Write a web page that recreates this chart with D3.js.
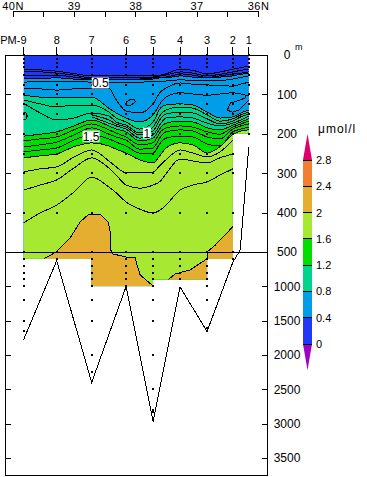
<!DOCTYPE html>
<html>
<head>
<meta charset="utf-8">
<script src="https://cdn.jsdelivr.net/npm/d3@7"></script>
<style>
  body { margin: 0; background: #fff; }
  text { font-family: "Liberation Sans", sans-serif; font-size: 12px; fill: #000; }
  .line { fill: none; stroke: #000; stroke-width: 1; shape-rendering: crispEdges; }
  .axis path, .axis line { stroke: #000; shape-rendering: crispEdges; }
</style>
</head>
<body>
<div id="viz"></div>
<script>
const stationNames = ["PM-9", "8", "7", "6", "5", "4", "3", "2", "1"];
const stationLats = [39.82, 39.28, 38.71, 38.15, 37.71, 37.27, 36.83, 36.41, 36.15];

const upper = [0, 10, 20, 30, 50, 75, 100, 125, 150, 200, 250, 300, 400, 500];
const stationDepths = [
  [...upper, 600, 700, 800, 900, 1000, 1200, 1500, 1650],
  [...upper, 600],
  [...upper, 600, 700, 800, 900, 1000, 1200, 1500, 2000, 2250],
  [...upper, 600, 700, 800, 900, 1000],
  [...upper, 600, 700, 800, 900, 1000, 1200, 1500, 2000, 2500, 2800, 2830],
  [...upper, 600, 700, 800, 900],
  [...upper, 600, 700, 800, 900, 1000, 1200, 1600],
  [...upper, 600],
  [0, 10, 20, 30, 50, 75, 100, 125, 150, 200]
];

const gridLats = [39.82, 39.55, 39.28, 39.0, 38.71, 38.43, 38.31, 38.15, 37.93, 37.71, 37.59, 37.5, 37.27, 37.06, 36.83, 36.62, 36.41, 36.28, 36.15];

// depth (m) of each contour at gridLats, null where the line is not drawn
const c01 = [38, 38, 41, 47, 53, 53, 53, 53, 53, 53, 51, 48, 36, 39, 48, 43, 36, 32, 28];
const c02 = [43, 43, 46, 51, 58, 58, 58, 58, 58, 56, 53, 51, 43, 46, 53, 49, 43, 39, 36];
const c03 = [51, 51, 51, 56, 61, 61, 61, 61, 61, 58, 56, 56, 48, 51, 57, 53, 48, 46, 43];
const c04 = [61, 60, 58, 61, 63, 63, 63, 63, 63, 61, 58, 58, 53, 56, 58, 56, 53, 49, 46];
const c05 = [69, 67, 66, 66, 69, 69, 69, 69, 69, 67, 66, 66, 63, 65, 66, 65, 61, 57, 53];
const c06 = [84, 86, 89, 86, 84, 84, 114, 142, 147, 124, 94, 84, 71, 74, 76, 77, 79, 74, 69];
const c07 = [102, 107, 109, 107, 107, 135, 147, 160, 170, 152, 122, 107, 96, 99, 102, 99, 96, 99, 104];
const c08 = [114, 124, 132, 127, 127, 145, 160, 170, 188, 170, 135, 127, 124, 127, 145, 160, 157, 147, 140];
const c09 = [122, 147, 165, 160, 147, 155, 170, 178, 198, 183, 152, 140, 132, 135, 152, 168, 162, 152, 145];
const c10 = [null, null, null, null, 152, 165, 175, 183, 203, 193, 162, 150, 145, 147, 162, 175, 168, 157, 150];
const c11 = [null, null, null, null, 157, 173, 180, 188, 211, 203, 175, 160, 157, 160, 173, 180, 173, 165, 155];
const c12 = [206, 201, 195, 180, 165, 180, 188, 195, 218, 211, 185, 173, 168, 170, 185, 190, 178, 170, 162];
const c13 = [218, 213, 208, 190, 175, 190, 198, 208, 228, 223, 195, 185, 180, 183, 195, 201, 183, 175, 168];
const c14 = [233, 228, 221, 203, 185, 201, 208, 216, 239, 236, 208, 195, 190, 193, 208, 213, 188, 180, 175];
const c15 = [246, 241, 236, 216, 203, 213, 221, 231, 249, 249, 223, 211, 206, 208, 226, 231, 195, 188, 183];
const c16 = [261, 256, 251, 233, 223, 231, 239, 249, 266, 274, 254, 236, 223, 228, 249, 233, 202, 193, 190];
const c17 = [297, 289, 284, 259, 241, 269, 284, 299, 299, 297, 279, 266, 241, 249, 259, 246, 216, null, null];
const c18 = [343, 330, 317, 287, 261, 287, 305, 330, 338, 330, 320, 302, 264, 269, 274, 261, 251, null, null];
const c19 = [426, 401, 381, 348, 310, 335, 350, 373, 391, 401, 393, 381, 343, 330, 322, 305, 289, null, null];
const contours = [c01, c02, c03, c04, c05, c06, c07, c08, c09, c10, c11, c12, c13, c14, c15, c16, c17, c18, c19];

// cyan to teal edge follows the seventh line on the left and the eighth over the hump
const tealEdge = [102, 107, 109, 107, 107, 135, 147, 160, 170, 152, 135, 127, 124, 127, 145, 160, 157, 147, 140];

const bandColors = ["#2038f8", "#009ee8", "#00d48c", "#00de00", "#a6e832", "#e6ae30", "#f08030"];
const bandEdges = [c04, tealEdge, c12, c16];

// 2.0 contour, orange below it
const orangeLeftLat = [39.49, 39.29, 39.06, 38.9, 38.77, 38.71, 38.57, 38.44, 38.4, 38.4, 38.36, 38.15, 38.0, 37.97, 37.92, 37.71];
const orangeLeftDepth = [600, 500, 464, 424, 406, 404, 404, 424, 457, 495, 529, 573, 587, 689, 834, 994];
const orangeRightLat = [37.47, 37.35, 37.11, 36.83, 36.83, 36.7, 36.54, 36.41];
const orangeRightDepth = [907, 820, 762, 600, 500, 483, 457, 436];

const eyeLat = [39.82, 39.78, 39.76, 39.78, 39.82];
const eyeDepth = [145, 147, 155, 162, 165];
const bowlLat = [38.14, 38.09, 38.02, 38.0, 38.07, 38.14, 38.14];
const bowlDepth = [119, 114, 112, 119, 127, 129, 119];
const curlLat = [36.15, 36.2, 36.21, 36.29, 36.45, 36.5, 36.42, 36.31, 36.18, 36.15];
const curlDepth = [104, 102, 109, 114, 122, 140, 145, 140, 119, 114];

// lower edge of the sampled section
const edgeLats = [39.82, 38.71, 37.71, 36.83, 36.41, 36.15];
const edgeDepths = [600, 1000, 900, 600, 200];

const bottomLat = [39.82, 39.28, 38.71, 38.15, 37.71, 37.27, 36.83, 36.41, 36.29, 36.25, 36.15];
const bottomDepth = [1780, 626, 2400, 1004, 2970, 1009, 1658, 650, 495, 419, 233];

const labelTexts = ["0.5", "1.5", "1"];
const labelLats = [38.57, 38.72, 37.81];
const labelDepths = [71, 206, 198];

const depthTicks = [0, 100, 200, 300, 400, 500, 1000, 1500, 2000, 2500, 3000, 3500];
const latTicks = [36, 36.5, 37, 37.5, 38, 38.5, 39, 39.5, 40];
const latNames = { 36: "36N", 37: "37", 38: "38", 39: "39", 40: "40N" };

const barValues = [0, 0.4, 0.8, 1.2, 1.6, 2, 2.4, 2.8];

const width = 367, height = 477;

const svg = d3.select("#viz").append("svg")
  .attr("width", width)
  .attr("height", height)
  .style("display", "block");

const x = d3.scaleLinear().domain([40, 36]).range([12.5, 258]);
const y = d3.scaleLinear().domain([0, 500, 3500]).range([55, 252, 458]);
const maxDepth = 3750;

// Section clip, stepped along the deepest sample
const clipPoints = [[edgeLats[0], 0], [edgeLats[edgeLats.length - 1], 0]];
for (let i = edgeDepths.length - 1; i >= 0; i--) {
  clipPoints.push([edgeLats[i + 1], edgeDepths[i]], [edgeLats[i], edgeDepths[i]]);
}
svg.append("clipPath").attr("id", "section")
  .append("path")
  .attr("d", d3.line().x(d => x(d[0])).y(d => y(d[1]))(clipPoints) + "Z");

const section = svg.append("g").attr("clip-path", "url(#section)");

section.append("rect")
  .attr("x", x(edgeLats[0]))
  .attr("y", y(0))
  .attr("width", x(36.15) - x(edgeLats[0]))
  .attr("height", y(1000) - y(0))
  .attr("fill", bandColors[0]);

const belowCurve = d3.area()
  .x(d => x(d[0]))
  .y0(y(1000))
  .y1(d => y(d[1]))
  .curve(d3.curveMonotoneX);

bandEdges.forEach((edge, i) => {
  section.append("path")
    .attr("d", belowCurve(d3.zip(gridLats, edge)))
    .attr("fill", bandColors[i + 1]);
});

const contourLine = d3.line()
  .defined(d => d[1] !== null)
  .x(d => x(d[0]))
  .y(d => y(d[1]))
  .curve(d3.curveMonotoneX);

contours.forEach(c => {
  section.append("path")
    .attr("class", "line")
    .attr("d", contourLine(d3.zip(gridLats, c)));
});

// Orange patches use straight segments, they have a vertical edge
const straightArea = d3.area().x(d => x(d[0])).y0(y(1000)).y1(d => y(d[1]));
const straightLine = d3.line().x(d => x(d[0])).y(d => y(d[1]));

[[orangeLeftLat, orangeLeftDepth], [orangeRightLat, orangeRightDepth]].forEach(([lats, depths]) => {
  const pts = d3.zip(lats, depths);
  section.append("path").attr("d", straightArea(pts)).attr("fill", bandColors[5]);
  section.append("path").attr("class", "line").attr("d", straightLine(pts));
});

[[eyeLat, eyeDepth], [bowlLat, bowlDepth], [curlLat, curlDepth]].forEach(([lats, depths]) => {
  section.append("path").attr("class", "line").attr("d", straightLine(d3.zip(lats, depths)));
});

// Sea floor
svg.append("path")
  .attr("class", "line")
  .attr("d", straightLine(d3.zip(bottomLat, bottomDepth)));

// Sample points
stationLats.forEach((lat, i) => {
  svg.append("g").selectAll("rect")
    .data(stationDepths[i])
    .join("rect")
    .attr("x", Math.round(x(lat)) - 1)
    .attr("y", d => Math.round(y(d)) - 1)
    .attr("width", 2)
    .attr("height", 2)
    .attr("fill", "#000");

  svg.append("line")
    .attr("x1", x(lat)).attr("x2", x(lat))
    .attr("y1", 47).attr("y2", y(0))
    .attr("stroke", "#000")
    .attr("shape-rendering", "crispEdges");

  svg.append("text")
    .attr("x", i === 0 ? x(lat) + 3 : x(lat))
    .attr("y", 44)
    .attr("text-anchor", i === 0 ? "end" : "middle")
    .style("font-size", "11px")
    .text(stationNames[i]);
});

// Contour labels
labelTexts.forEach((t, i) => {
  const w = t.length === 1 ? 8 : 17;
  svg.append("rect")
    .attr("x", x(labelLats[i]) - w / 2)
    .attr("y", y(labelDepths[i]) - 5.5)
    .attr("width", w)
    .attr("height", 11)
    .attr("fill", "#fff");
  svg.append("text")
    .attr("x", x(labelLats[i]))
    .attr("y", y(labelDepths[i]) + 4.5)
    .attr("text-anchor", "middle")
    .text(t);
});

// Frame and break line
svg.append("rect")
  .attr("x", 5.5).attr("y", y(0))
  .attr("width", 262).attr("height", y(maxDepth) - y(0) + 0.5)
  .attr("fill", "none")
  .attr("stroke", "#000")
  .attr("shape-rendering", "crispEdges");

svg.append("line")
  .attr("x1", 5.5).attr("x2", 267.5)
  .attr("y1", y(500)).attr("y2", y(500))
  .attr("stroke", "#000")
  .attr("shape-rendering", "crispEdges");

// Axes
svg.append("g")
  .attr("class", "axis")
  .attr("transform", "translate(5.5,0)")
  .call(d3.axisLeft(y).tickValues(depthTicks).tickSize(-5.5).tickSizeOuter(0).tickFormat(""))
  .select(".domain").remove();

const rightAxis = svg.append("g")
  .attr("class", "axis")
  .attr("transform", "translate(267.5,0)")
  .call(d3.axisRight(y).tickValues(depthTicks).tickSize(-5.5).tickSizeOuter(0).tickPadding(19.5).tickFormat(d3.format("d")));
rightAxis.select(".domain").remove();
rightAxis.selectAll("text")
  .attr("text-anchor", "middle")
  .style("font-size", "12px")
  .style("font-family", "\"Liberation Sans\", sans-serif");

svg.append("text")
  .attr("x", 295).attr("y", 50)
  .style("font-size", "9px")
  .text("m");

const topAxis = svg.append("g")
  .attr("class", "axis")
  .attr("transform", "translate(0,10.5)")
  .call(d3.axisBottom(x).tickValues(latTicks).tickSize(6).tickSizeOuter(0).tickFormat(d => latNames[d] || ""));
topAxis.selectAll("text")
  .attr("y", -0.5)
  .attr("dy", 0)
  .style("font-size", "11px")
  .style("letter-spacing", "0.5px")
  .style("font-family", "\"Liberation Sans\", sans-serif");

// Colour bar
const bar = d3.scaleLinear().domain([0, 2.8]).range([344, 160]);
const barX = 303, barW = 9;
const step = barValues[1] - barValues[0];

barValues.slice(0, -1).forEach((v, i) => {
  svg.append("rect")
    .attr("x", barX)
    .attr("y", bar(barValues[i + 1]))
    .attr("width", barW)
    .attr("height", bar(v) - bar(barValues[i + 1]))
    .attr("fill", bandColors[i]);
});

svg.append("path")
  .attr("d", `M${barX},${bar(2.8)}L${barX + barW},${bar(2.8)}L${barX + barW / 2},${bar(2.8 + step)}Z`)
  .attr("fill", "#e0006c");
svg.append("path")
  .attr("d", `M${barX},${bar(0)}L${barX + barW},${bar(0)}L${barX + barW / 2},${bar(-step)}Z`)
  .attr("fill", "#a000c8");

barValues.forEach(v => {
  svg.append("line")
    .attr("x1", barX).attr("x2", barX + barW)
    .attr("y1", bar(v)).attr("y2", bar(v))
    .attr("stroke", "#000")
    .attr("shape-rendering", "crispEdges");
  svg.append("text")
    .attr("x", 316)
    .attr("y", bar(v) + 4)
    .style("font-size", "11px")
    .text(v);
});

svg.append("text")
  .attr("x", 318).attr("y", 133)
  .style("letter-spacing", "1px")
  .text("μmol/l");
</script>
</body>
</html>
